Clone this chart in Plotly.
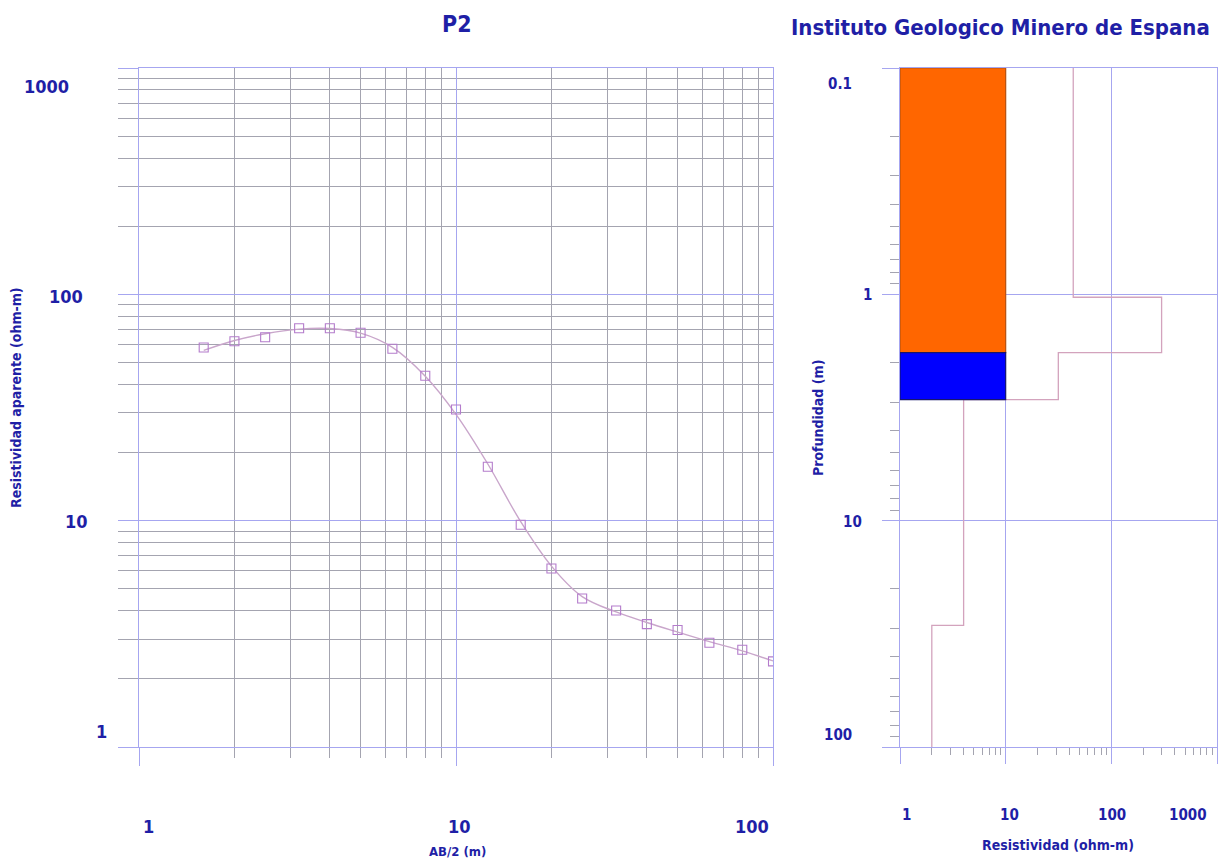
import plotly.graph_objects as go

# ---- Sounding P2: apparent resistivity curve ----
ab2 = [1.6, 2.0, 2.5, 3.2, 4.0, 5.0, 6.3, 8.0, 10, 12.6, 16, 20, 25, 32, 40, 50, 63, 80, 100]
rho_obs = [58.2, 62.0, 64.6, 70.8, 70.8, 67.6, 57.5, 43.7, 31.0, 17.3, 9.6, 6.15,
           4.53, 4.01, 3.49, 3.29, 2.89, 2.69, 2.39]
rho_fit = [56.5, 62.5, 67.0, 70.2, 70.6, 67.4, 58.3, 43.5, 29.5, 17.8, 9.9, 6.3,
           4.62, 3.95, 3.55, 3.22, 2.92, 2.66, 2.40]

# ---- Layered resistivity model (step profile) ----
model_rho = [43.6, 299, 31.5, 4.0, 2.0]
model_top = [0.1, 1.03, 1.81, 2.92, 29.0]
model_bottom = [1.03, 1.81, 2.92, 29.0, 100.0]

# ---- Lithology column ----
litho_top = [0.1, 1.81]
litho_bottom = [1.81, 2.92]
litho_fill = ["#ff6600", "#0000ff"]
litho_edge = ["#b8520e", "#16166e"]
COLUMN_SPAN = (1, 10)

# ---- Tick labels ----
left_x_labels = ["1", "10", "100"]
left_y_labels = ["1000", "100", "10", "1"]
right_x_labels = ["1", "10", "100", "1000"]
right_y_labels = ["0.1", "1", "10", "100"]

W, H = 1221, 859
TXT = "#1f1fa6"
FONT = "Liberation Sans Narrow, Arial Narrow, DejaVu Sans Condensed, sans-serif"
MAJOR = "#a6a6f0"
MINOR = "#a4a4b0"


def px(x):
    return x / W


def py(y):
    return 1 - y / H


def minors(decades):
    return [m * 10 ** d for d in decades for m in range(2, 10)]


fig = go.Figure()

# apparent resistivity: fitted curve + field points
fig.add_trace(go.Scatter(x=ab2, y=rho_fit, mode="lines", line=dict(color="#c9a6cb", width=1.4, shape="spline"),
                         xaxis="x", yaxis="y", hoverinfo="skip"))
fig.add_trace(go.Scatter(x=ab2, y=rho_obs, mode="markers",
                         marker=dict(symbol="square-open", size=9, color="#b47ccc", line=dict(width=1.1)),
                         xaxis="x", yaxis="y"))

# step model
sx, sy = [], []
for r, t, b in zip(model_rho, model_top, model_bottom):
    sx += [r, r]
    sy += [t, b]
fig.add_trace(go.Scatter(x=sx, y=sy, mode="lines", line=dict(color="#d3a3bd", width=1.3),
                         xaxis="x2", yaxis="y2", hoverinfo="skip"))

# lithology boxes
for t, b, fc, ec in zip(litho_top, litho_bottom, litho_fill, litho_edge):
    x0, x1 = COLUMN_SPAN
    fig.add_trace(go.Scatter(x=[x0, x1, x1, x0, x0], y=[t, t, b, b, t], mode="lines",
                             fill="toself", fillcolor=fc, line=dict(color=ec, width=1.2),
                             xaxis="x2", yaxis="y2", hoverinfo="skip"))

ydom = [py(747), py(68)]

fig.update_layout(
    width=W, height=H, margin=dict(l=0, r=0, t=0, b=0),
    paper_bgcolor="white", plot_bgcolor="white", showlegend=False,
    xaxis=dict(type="log", range=[0, 2], domain=[px(139), px(773)],
               tickvals=[1, 10, 100], showticklabels=False,
               ticks="outside", ticklen=18, tickcolor=MAJOR, tickwidth=1.2,
               showgrid=True, gridcolor=MAJOR, gridwidth=1.2,
               showline=True, mirror=True, linecolor=MAJOR, linewidth=1.2, zeroline=False,
               minor=dict(tickvals=minors([0, 1]), ticks="outside", ticklen=10, tickcolor=MINOR,
                          showgrid=True, gridcolor=MINOR, gridwidth=1.2),
               anchor="y"),
    yaxis=dict(type="log", range=[0, 3], domain=ydom,
               tickvals=[1, 10, 100, 1000], showticklabels=False,
               ticks="outside", ticklen=20, tickcolor=MAJOR, tickwidth=1.2,
               showgrid=True, gridcolor=MAJOR, gridwidth=1.2,
               showline=True, mirror=True, linecolor=MAJOR, linewidth=1.2, zeroline=False,
               minor=dict(tickvals=minors([0, 1, 2]), ticks="outside", ticklen=20, tickcolor=MINOR,
                          showgrid=True, gridcolor=MINOR, gridwidth=1.2),
               anchor="x"),
    xaxis2=dict(type="log", range=[0, 3], domain=[px(900), px(1217)],
                tickvals=[1, 10, 100, 1000], showticklabels=False,
                ticks="outside", ticklen=16, tickcolor=MAJOR, tickwidth=1.2,
                showgrid=True, gridcolor=MAJOR, gridwidth=1.2,
                showline=True, mirror=True, linecolor=MAJOR, linewidth=1.2, zeroline=False,
                minor=dict(tickvals=minors([0, 1, 2]), ticks="outside", ticklen=7, tickcolor=MINOR,
                           showgrid=False),
                anchor="y2"),
    yaxis2=dict(type="log", range=[2, -1], domain=ydom,
                tickvals=[0.1, 1, 10, 100], showticklabels=False,
                ticks="outside", ticklen=17, tickcolor=MAJOR, tickwidth=1.2,
                showgrid=True, gridcolor=MAJOR, gridwidth=1.2,
                showline=True, mirror=True, linecolor=MAJOR, linewidth=1.2, zeroline=False,
                minor=dict(tickvals=minors([-1, 0, 1]), ticks="outside", ticklen=9, tickcolor=MINOR,
                           showgrid=False),
                anchor="x2"),
)

ann = []


def label(text, x, y, size, angle=0):
    ann.append(dict(text=text, x=px(x), y=py(y), xref="paper", yref="paper", showarrow=False,
                    xanchor="center", yanchor="middle", textangle=angle,
                    font=dict(family=FONT, size=size, color=TXT, weight="bold")))


# titles
label("P2", 457, 24, 23)
label("Instituto Geologico Minero de Espana", 1000, 28, 22)

# left panel tick labels
for t, (x, y) in zip(left_x_labels, [(148, 826), (459, 826), (752, 826)]):
    label(t, x, y, 18)
for t, (x, y) in zip(left_y_labels, [(46, 86), (66, 296), (76, 521), (101, 731)]):
    label(t, x, y, 18)

# right panel tick labels
for t, (x, y) in zip(right_x_labels, [(906, 815), (1009, 815), (1112, 815), (1188, 815)]):
    label(t, x, y, 15)
for t, (x, y) in zip(right_y_labels, [(840, 84), (867, 295), (852, 522), (838, 735)]):
    label(t, x, y, 15)

# axis titles
label("AB/2 (m)", 457, 851, 13)
label("Resistividad (ohm-m)", 1058, 845, 14)
label("Resistividad aparente (ohm-m)", 16, 398, 14, angle=-90)
label("Profundidad (m)", 818, 418, 14, angle=-90)

fig.update_layout(annotations=ann)
fig.write_html("out.html")
